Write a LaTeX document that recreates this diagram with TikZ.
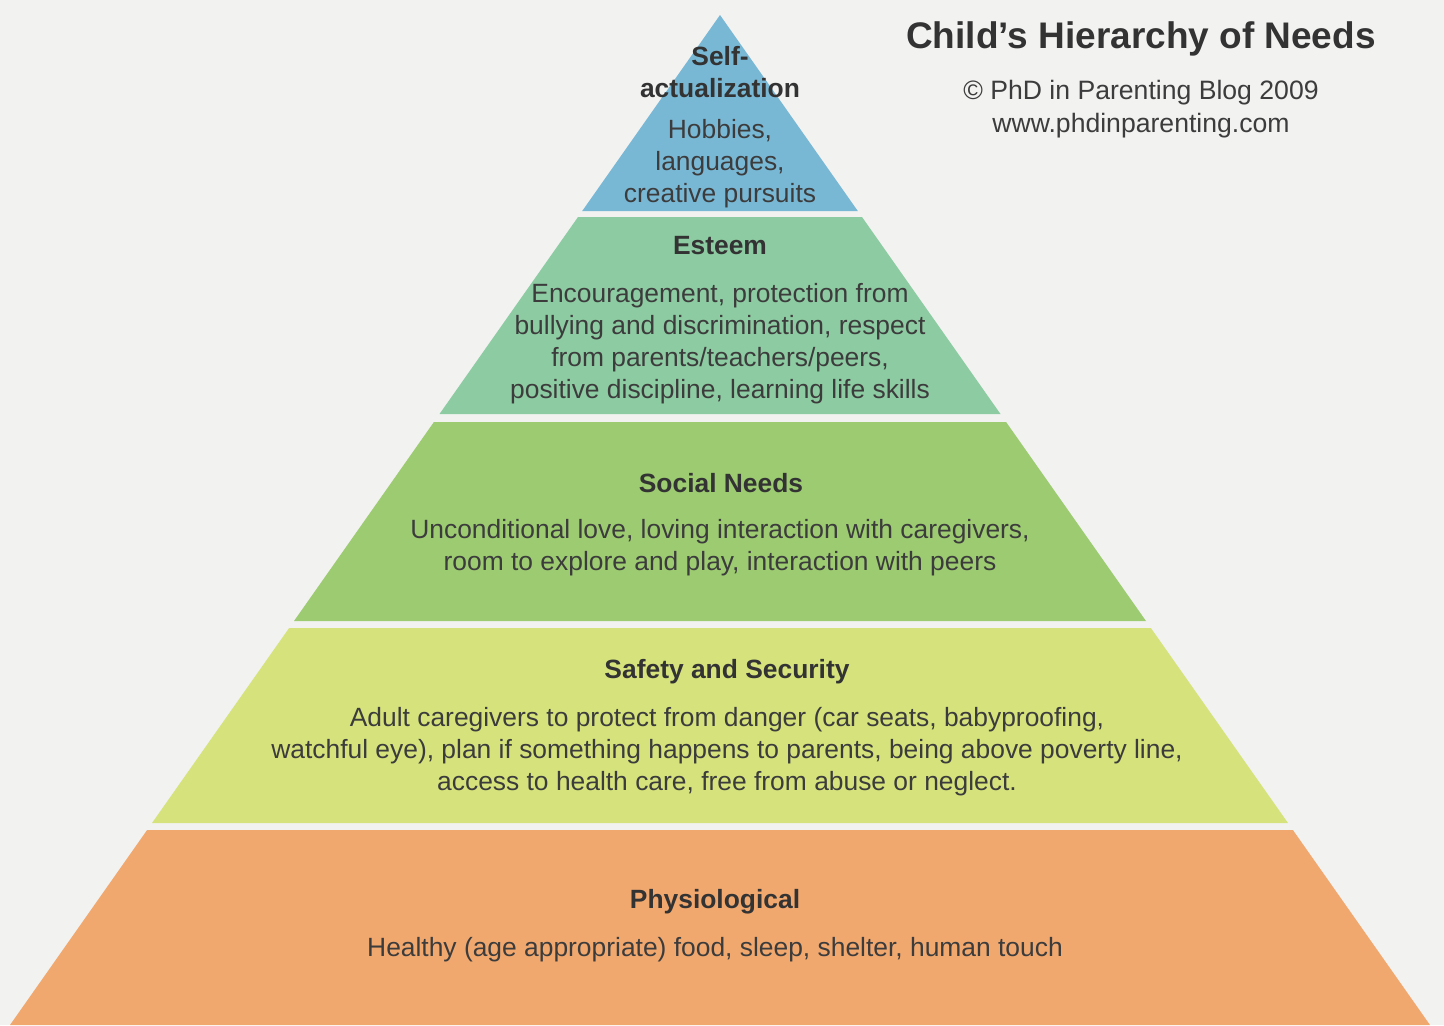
\documentclass[tikz,border=0pt]{standalone}
\usepackage{fontspec}
\setmainfont{Liberation Sans}
\definecolor{paper}{HTML}{F2F2F1}
\definecolor{cblue}{HTML}{79B8D5}
\definecolor{cteal}{HTML}{8DCBA2}
\definecolor{cgreen}{HTML}{9DCB71}
\definecolor{cyellow}{HTML}{D6E37C}
\definecolor{corange}{HTML}{F1A86F}
\definecolor{txt}{HTML}{3C3C3C}
\definecolor{txtdark}{HTML}{333333}
\begin{document}
\begin{tikzpicture}[x=0.5pt,y=-0.5pt,
  band/.style={draw=none},
  head/.style={font=\fontsize{13.2}{16}\selectfont\bfseries, text=txtdark, inner sep=0pt, align=center},
  body/.style={font=\fontsize{13.2}{16}\selectfont, text=txt, inner sep=0pt, align=center},
  title/.style={font=\fontsize{18.5}{22}\selectfont\bfseries, text=txtdark, inner sep=0pt},
  subtitle/.style={font=\fontsize{13.3}{16.5}\selectfont, text=txt, inner sep=0pt, align=center}]
\useasboundingbox (0,0) rectangle (1444,1025);
\fill[paper] (0,0) rectangle (1444,1025);
% bands
\fill[cblue]   (720,15) -- (582.2,211) -- (857.8,211) -- cycle;
\fill[cteal]   (578.0,217) -- (862.0,217) -- (1000.5,414) -- (439.5,414) -- cycle;
\fill[cgreen]  (433.9,422) -- (1006.1,422) -- (1146.0,621) -- (294.0,621) -- cycle;
\fill[cyellow] (289.1,628) -- (1150.9,628) -- (1288.0,823) -- (152.0,823) -- cycle;
\fill[corange] (147.1,830) -- (1292.9,830) -- (1430,1025) -- (10,1025) -- cycle;
% title
\node[title] (ttl) at (1141,39) {Child’s Hierarchy of Needs};
\node[subtitle] (sub) at (1141,109) {© PhD in Parenting Blog 2009\\www.phdinparenting.com};
% self-actualization
\node[head] (sah) at (720,72) {Self-\\actualization};
\node[body] (sab) at (720,164) {Hobbies,\\languages,\\creative pursuits};
% esteem
\node[head] (esh) at (720,246) {Esteem};
\node[body] (esb) at (720,344) {Encouragement, protection from\\bullying and discrimination, respect\\from parents/teachers/peers,\\positive discipline, learning life skills};
% social
\node[head] (soh) at (721,483) {Social Needs};
\node[body] (sob) at (720,548) {Unconditional love, loving interaction with caregivers,\\room to explore and play, interaction with peers};
% safety
\node[head] (sfh) at (727,672) {Safety and Security};
\node[body] (sfb) at (727,752) {Adult caregivers to protect from danger (car seats, babyproofing,\\watchful eye), plan if something happens to parents, being above poverty line,\\access to health care, free from abuse or neglect.};
% physiological
\node[head] (phh) at (715,902) {Physiological};
\node[body] (phb) at (715,950) {Healthy (age appropriate) food, sleep, shelter, human touch};
\end{tikzpicture}
\end{document}
